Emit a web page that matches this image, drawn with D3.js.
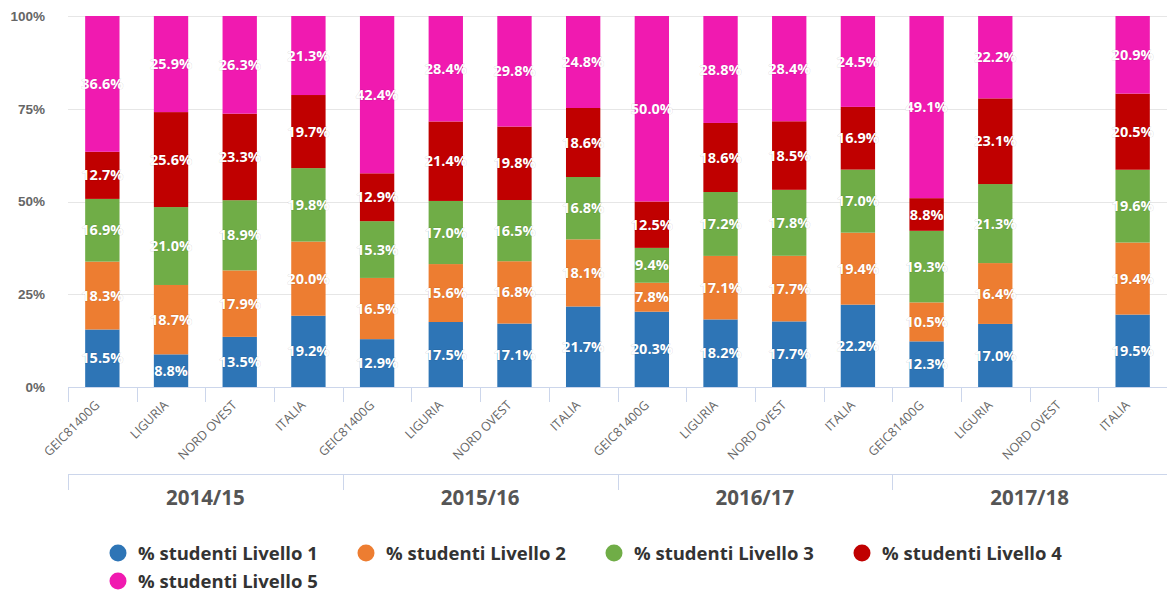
<!DOCTYPE html>
<html>
<head>
<meta charset="utf-8">
<script src="https://cdn.jsdelivr.net/npm/d3@7"></script>
<style>
  body { margin: 0; background: #fff; }
  svg { font-family: "Open Sans", "DejaVu Sans", sans-serif; }
</style>
</head>
<body>
<div id="chart"></div>
<script>
// data
var years = ["2014/15", "2015/16", "2016/17", "2017/18"];
var areas = ["GEIC81400G", "LIGURIA", "NORD OVEST", "ITALIA"];
var seriesNames = ["% studenti Livello 1", "% studenti Livello 2", "% studenti Livello 3", "% studenti Livello 4", "% studenti Livello 5"];
var seriesColors = ["#2E75B6", "#ED7D31", "#70AD47", "#C00000", "#F01AB0"];
// one value per bar, in order year by year, area by area (null = no data)
var livello1 = [15.5, 8.8, 13.5, 19.2, 12.9, 17.5, 17.1, 21.7, 20.3, 18.2, 17.7, 22.2, 12.3, 17.0, null, 19.5];
var livello2 = [18.3, 18.7, 17.9, 20.0, 16.5, 15.6, 16.8, 18.1, 7.8, 17.1, 17.7, 19.4, 10.5, 16.4, null, 19.4];
var livello3 = [16.9, 21.0, 18.9, 19.8, 15.3, 17.0, 16.5, 16.8, 9.4, 17.2, 17.8, 17.0, 19.3, 21.3, null, 19.6];
var livello4 = [12.7, 25.6, 23.3, 19.7, 12.9, 21.4, 19.8, 18.6, 12.5, 18.6, 18.5, 16.9, 8.8, 23.1, null, 20.5];
var livello5 = [36.6, 25.9, 26.3, 21.3, 42.4, 28.4, 29.8, 24.8, 50.0, 28.8, 28.4, 24.5, 49.1, 22.2, null, 20.9];
var yTicks = [0, 25, 50, 75, 100];

var width = 1168, height = 594;
var margin = {top: 16, right: 1, bottom: 207, left: 68};

var svg = d3.select("#chart").append("svg")
  .attr("width", width)
  .attr("height", height);

// build rows
var levels = [livello1, livello2, livello3, livello4, livello5];
var rows = [];
years.forEach(function(yr, yi) {
  areas.forEach(function(ar, ai) {
    var i = yi * areas.length + ai;
    var row = {key: yr + "|" + ar, year: yr, area: ar, missing: livello1[i] == null};
    seriesNames.forEach(function(s, si) { row[s] = levels[si][i] == null ? 0 : levels[si][i]; });
    rows.push(row);
  });
});

var stack = d3.stack().keys(seriesNames).offset(d3.stackOffsetExpand);
var stacked = stack(rows);

// scales
var x = d3.scaleBand()
  .domain(rows.map(function(d) { return d.key; }))
  .range([margin.left, width - margin.right])
  .paddingInner(0.5)
  .paddingOuter(0.25);
var xGroup = d3.scaleBand()
  .domain(years)
  .range([margin.left, width - margin.right]);
var y = d3.scaleLinear()
  .domain([0, 1])
  .range([height - margin.bottom, margin.top]);

var plotBottom = height - margin.bottom;

// gridlines
svg.append("g")
  .selectAll("line")
  .data(yTicks.filter(function(t) { return t > 0; }))
  .join("line")
  .attr("x1", margin.left)
  .attr("x2", width - margin.right)
  .attr("y1", function(d) { return Math.round(y(d / 100)) + 0.5; })
  .attr("y2", function(d) { return Math.round(y(d / 100)) + 0.5; })
  .attr("stroke", "#e6e6e6");

// y axis labels
var yAxis = svg.append("g")
  .attr("transform", "translate(" + (margin.left - 23) + ",0)")
  .call(d3.axisLeft(y).tickValues(yTicks.map(function(t) { return t / 100; }))
    .tickFormat(function(d) { return Math.round(d * 100) + "%"; })
    .tickSize(0));
yAxis.select(".domain").remove();
yAxis.selectAll("text")
  .attr("x", 0)
  .style("font-size", "13.5px")
  .style("font-weight", "bold")
  .style("fill", "#666");

// bars
var layer = svg.append("g")
  .selectAll("g.layer")
  .data(stacked)
  .join("g")
  .attr("class", "layer")
  .attr("fill", function(d, i) { return seriesColors[i]; });

layer.selectAll("rect")
  .data(function(d) { return d.filter(function(p) { return !p.data.missing; }); })
  .join("rect")
  .attr("x", function(d) { return x(d.data.key); })
  .attr("width", x.bandwidth())
  .attr("y", function(d) { return y(d[1]); })
  .attr("height", function(d) { return y(d[0]) - y(d[1]); });

// value labels
var labels = svg.append("g");
stacked.forEach(function(s, si) {
  labels.selectAll("text.l" + si)
    .data(s.filter(function(p) { return !p.data.missing; }))
    .join("text")
    .attr("class", "l" + si)
    .attr("x", function(d) { return x(d.data.key) + x.bandwidth() / 2; })
    .attr("y", function(d) { return (y(d[0]) + y(d[1])) / 2; })
    .attr("dy", "0.35em")
    .attr("text-anchor", "middle")
    .style("font-size", "14.5px")
    .style("font-weight", "bold")
    .style("fill", "#fff")
    .style("paint-order", "stroke")
    .style("stroke", "rgba(0,0,0,0.12)")
    .style("stroke-width", "1px")
    .text(function(d) { return d.data[s.key].toFixed(1) + "%"; });
});

// category axis
var catAxis = svg.append("g");
catAxis.append("line")
  .attr("x1", margin.left).attr("x2", width - margin.right)
  .attr("y1", plotBottom + 0.5).attr("y2", plotBottom + 0.5)
  .attr("stroke", "#ccd6eb");
catAxis.selectAll("line.tick")
  .data(rows)
  .join("line")
  .attr("class", "tick")
  .attr("x1", function(d, i) { return Math.round(margin.left + i * x.step()) + 0.5; })
  .attr("x2", function(d, i) { return Math.round(margin.left + i * x.step()) + 0.5; })
  .attr("y1", plotBottom)
  .attr("y2", plotBottom + 15)
  .attr("stroke", "#ccd6eb");
catAxis.selectAll("text")
  .data(rows)
  .join("text")
  .attr("transform", function(d) {
    return "translate(" + (x(d.key) + x.bandwidth() / 2 - 2) + "," + (plotBottom + 19) + ") rotate(-45)";
  })
  .attr("text-anchor", "end")
  .style("font-size", "12.5px")
  .style("fill", "#666")
  .text(function(d) { return d.area; });

// group axis
var groupY = 474;
var groupAxis = svg.append("g");
groupAxis.append("line")
  .attr("x1", margin.left).attr("x2", width - margin.right)
  .attr("y1", groupY + 0.5).attr("y2", groupY + 0.5)
  .attr("stroke", "#ccd6eb");
groupAxis.selectAll("line.tick")
  .data(years)
  .join("line")
  .attr("class", "tick")
  .attr("x1", function(d) { return Math.round(xGroup(d)) + 0.5; })
  .attr("x2", function(d) { return Math.round(xGroup(d)) + 0.5; })
  .attr("y1", groupY)
  .attr("y2", groupY + 16)
  .attr("stroke", "#ccd6eb");
groupAxis.selectAll("text")
  .data(years)
  .join("text")
  .attr("x", function(d) { return xGroup(d) + xGroup.bandwidth() / 2; })
  .attr("y", 505)
  .attr("text-anchor", "middle")
  .style("font-size", "20.5px")
  .style("font-weight", "bold")
  .style("fill", "#555")
  .text(function(d) { return d; });

// legend
var legend = svg.append("g")
  .selectAll("g")
  .data(seriesNames)
  .join("g")
  .attr("transform", function(d, i) {
    return "translate(" + (118 + (i % 4) * 248) + "," + (553 + Math.floor(i / 4) * 28) + ")";
  });
legend.append("circle")
  .attr("r", 8.5)
  .attr("fill", function(d, i) { return seriesColors[i]; });
legend.append("text")
  .attr("x", 20)
  .attr("y", 7)
  .style("font-size", "18.5px")
  .style("font-weight", "bold")
  .style("fill", "#333")
  .text(function(d) { return d; });
</script>
</body>
</html>
